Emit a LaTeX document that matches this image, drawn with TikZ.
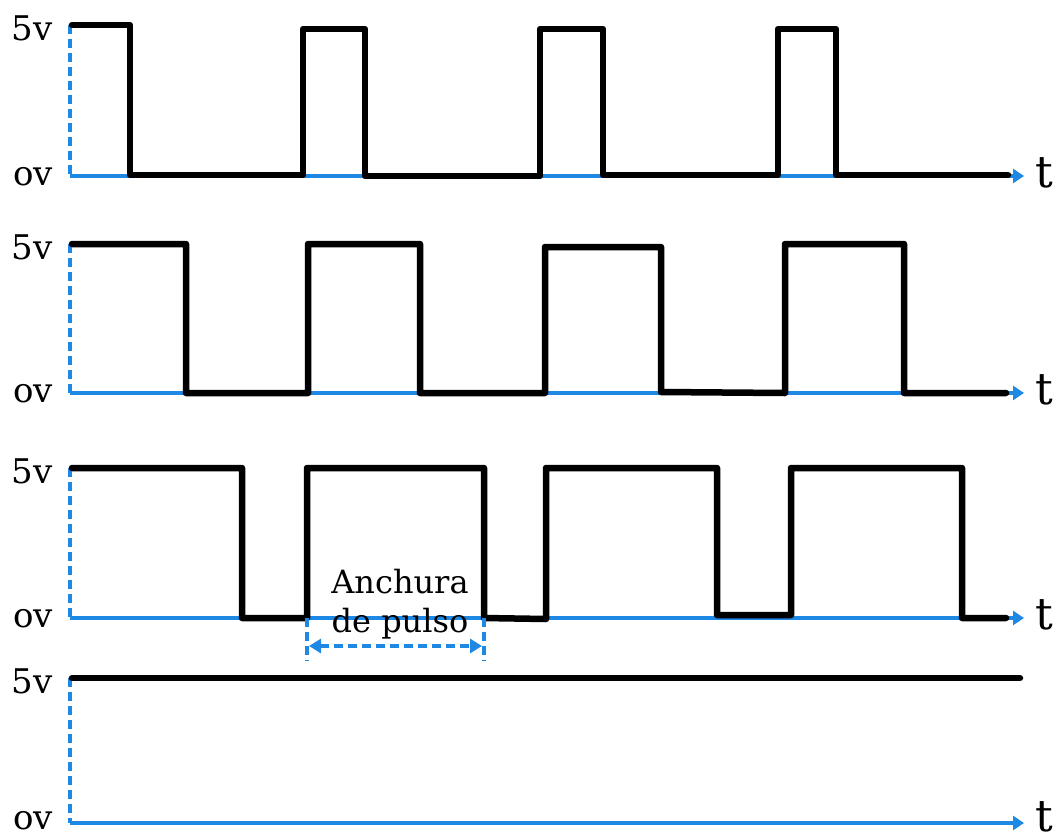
\documentclass[tikz,border=0pt]{standalone}
\usepackage{fontspec}
\setmainfont{DejaVu Serif}
\usetikzlibrary{arrows.meta}
\definecolor{axisblue}{RGB}{30,136,229}
\tikzset{
  axis/.style={draw=axisblue,line width=3.5pt,-{Triangle[length=11pt,width=14pt]}},
  guide/.style={draw=axisblue,line width=3.8pt,dash pattern=on 9pt off 5pt},
  wave/.style={draw=black,line width=6.5pt,line join=round,line cap=round},
  lvl/.style={font=\fontsize{34}{34}\selectfont,anchor=base east,inner sep=0pt},
  tlabel/.style={font=\fontsize{44}{44}\selectfont,anchor=base west,inner sep=0pt},
  note/.style={font=\fontsize{32}{32}\selectfont,anchor=base,inner sep=0pt}
}
\begin{document}
\begin{tikzpicture}[x=1pt,y=-1pt]
\useasboundingbox (0,0) rectangle (1062,838);

% ---- axes for each trace: dashed 5v guide, solid time axis ----
\foreach \hi/\lo/\n/\d in {25/176/a/0,244/393/b/0,468/618/c/0,678/823/d/3}{
  \coordinate (top\n) at (70,\hi);
  \coordinate (org\n) at (70,\lo);
  \coordinate (end\n) at (1024,\lo);
  \draw[guide] (top\n) -- (org\n);
  \draw[axis] (org\n) -- (end\n);
  \node[lvl] (hi\n) at (53,\hi+15) {5v};
  \node[lvl] (lo\n) at (53,\lo+9-\d) {ov};
  \node[tlabel] (t\n) at (1035,\lo+11-\d) {t};
}

% ---- trace 1: narrow pulses ----
\draw[wave] (72,25) -- (130,25) -- (130,175) -- (303,175) -- (303,29) -- (365,29)
  -- (365,176) -- (540,176) -- (540,29) -- (603,29) -- (603,175) -- (778,175)
  -- (778,29) -- (836,29) -- (836,175) -- (1008,175);

% ---- trace 2: half duty ----
\draw[wave] (72,244) -- (186,244) -- (186,393) -- (308,393) -- (308,244) -- (420,244)
  -- (420,393) -- (545,393) -- (545,247) -- (661,247) -- (661,392) -- (785,393)
  -- (785,244) -- (904,244) -- (904,393) -- (1006,393);

% ---- trace 3: wide pulses ----
\draw[wave] (72,468) -- (242,468) -- (242,618) -- (307,618) -- (307,468) -- (484,468)
  -- (484,618) -- (546,619) -- (546,468) -- (717,468) -- (717,615) -- (791,615)
  -- (791,468) -- (962,468) -- (962,618) -- (1006,618);

% ---- trace 4: constant high ----
\draw[wave] (72,678) -- (1020,678);

% ---- pulse width dimension ----
\coordinate (pwl) at (307,618);
\coordinate (pwr) at (484,618);
\coordinate (pwlb) at (307,661);
\coordinate (pwrb) at (484,661);
\draw[guide] (pwl) -- (pwlb);
\draw[guide] (pwr) -- (pwrb);
\draw[guide,{Triangle[length=12pt,width=14pt]}-{Triangle[length=12pt,width=14pt]}]
  (309,646) -- (482,646);
\node[note] (pw1) at (400,593) {Anchura};
\node[note] (pw2) at (400,632) {de pulso};
\end{tikzpicture}
\end{document}
